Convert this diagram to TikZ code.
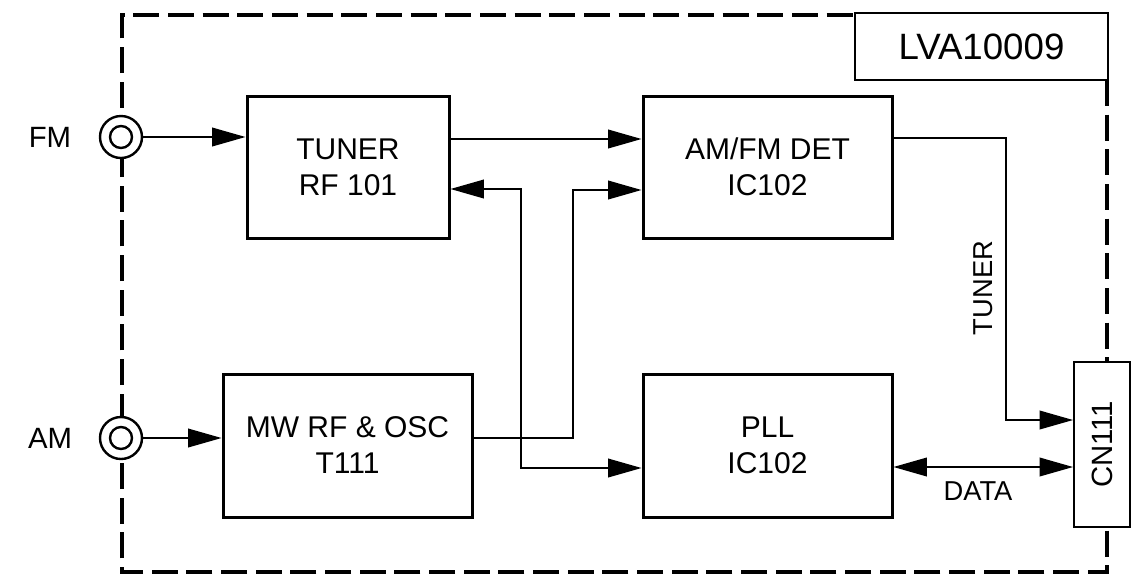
\documentclass[tikz,border=0pt]{standalone}
\usepackage{fontspec}
\setmainfont{Liberation Sans}
\usetikzlibrary{arrows.meta}

\begin{document}
\begin{tikzpicture}[x=0.75pt, y=-0.75pt,
    >={Triangle[length=25pt,width=14pt]},
    block/.style={draw, line width=2.25pt, align=center, font=\fontsize{22.5}{27}\selectfont, minimum height=106.5pt},
    tag/.style={draw, line width=1.5pt, fill=white},
    jack/.style={circle, draw, line width=1.8pt, fill=white, minimum size=31.5pt, inner sep=0pt},
    sig/.style={line width=1.1pt, ->},
    small/.style={font=\fontsize{20.5}{24}\selectfont}]
\useasboundingbox (0,0) rectangle (1138,583);

% Frame
\draw[line width=3pt, dash pattern=on 19.5pt off 6.5pt] (1107,80) -- (1107,572) -- (122,572) -- (122,15) -- (855,15);
\node[tag, minimum width=189.75pt, minimum height=50.25pt, font=\fontsize{27.5}{33}\selectfont] (lva) at (981.5,46.5) {LVA10009};

% Blocks
\node[block, minimum width=151.5pt] (tuner) at (348,167) {TUNER\\RF 101};
\node[block, minimum width=186.75pt] (det) at (767.5,167) {AM/FM DET\\IC102};
\node[block, minimum width=186.75pt, minimum height=107.25pt] (mw) at (347.5,445.5) {MW RF \& OSC\\T111};
\node[block, minimum width=186.75pt, minimum height=107.25pt] (pll) at (767.5,445.5) {PLL\\IC102};

% Connector
\node[tag, minimum width=42pt, minimum height=123.75pt] (cn) at (1102,444.5) {};
\node[font=\fontsize{22}{26}\selectfont, rotate=90] (cn-lbl) at (cn) {CN111};

% Antenna jacks
\foreach \name/\y/\txt in {fm/137/FM, am/438/AM} {
    \node[jack] (\name) at (121,\y) {};
    \draw[line width=1.8pt] (\name) circle (8.25pt);
    \node[font=\fontsize{22}{26}\selectfont] (\name-lbl) at (50,\y) {\txt};
}

% Signal lines
\draw[sig] (fm) -- (tuner.west |- fm);
\draw[sig] (am) -- (mw.west |- am);
\draw[sig] (tuner.east |- 0,139) -- (det.west |- 0,139);
\draw[sig, <->] (tuner.east |- 0,189) -| (521,468) -- (pll.west |- 0,468);
\draw[sig] (mw.east |- 0,438) -| (573,190) -- (det.west |- 0,190);
\draw[sig] (det.east |- 0,138) -| (1006,420) -- (cn.west |- 0,420);
\draw[sig, <->] (pll.east |- 0,467) -- (cn.west |- 0,467);

% Line labels
\node[small, rotate=90] (tuner-lbl) at (983,288) {TUNER};
\node[small] (data-lbl) at (978,491) {DATA};
\end{tikzpicture}
\end{document}
